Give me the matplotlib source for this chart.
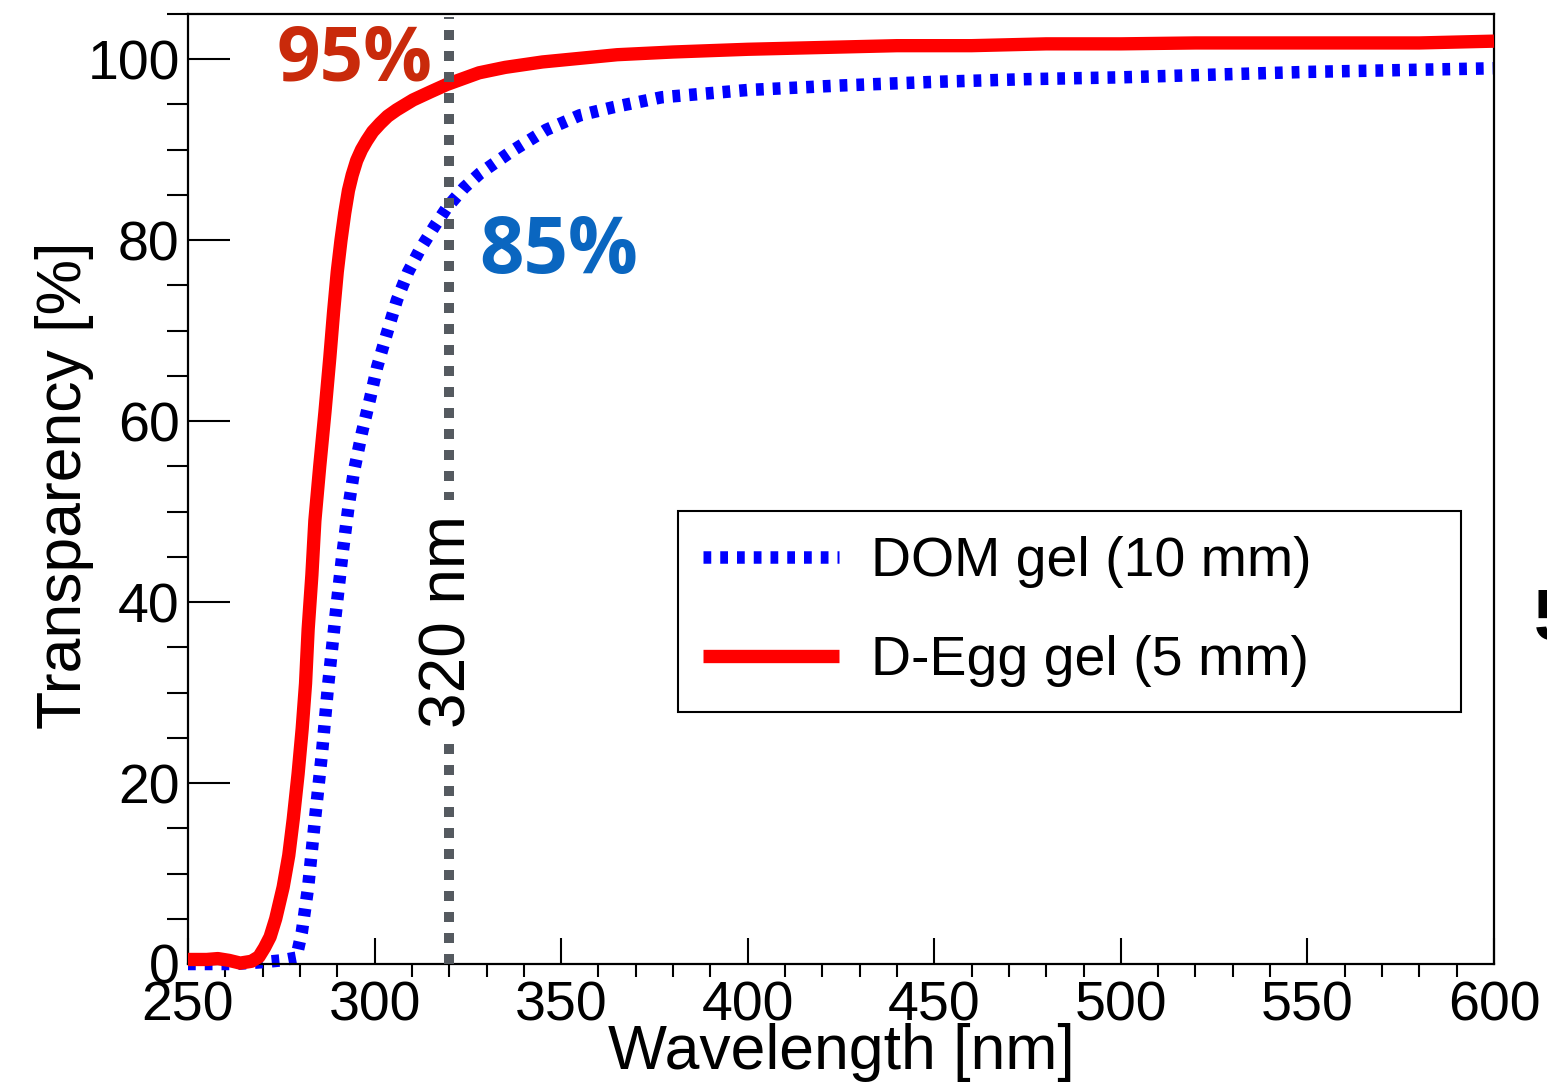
import numpy as np
import matplotlib
matplotlib.use('Agg')
import matplotlib.pyplot as plt
from matplotlib.ticker import MultipleLocator

plt.rcParams['font.family'] = ['Liberation Sans', 'DejaVu Sans']

# D-Egg gel (5 mm)
degg_wl = [250, 255, 258, 261, 264, 267, 269, 270.5, 272, 273.5, 275.5, 277, 278.2,
           279.5, 280.6, 281.5, 282.2, 283.2, 284, 285.3, 286.7, 288, 289, 290,
           291, 292, 293, 294, 295.2, 296.5, 297.9, 299.5, 301.5, 303.5, 305.9, 310.3,
           315, 319.3, 328, 335, 345, 355, 365, 380, 400, 420, 440, 460, 480, 500,
           520, 550, 580, 600]
degg_tr = [0.5, 0.5, 0.6, 0.4, 0.1, 0.3, 0.8, 1.8, 3.0, 5.0, 8.5, 12.0, 16.0,
           21.0, 26.0, 31.0, 37.0, 43.0, 49.0, 55.0, 61.0, 67.0, 72.0, 76.5,
           80.0, 83.0, 85.5, 87.2, 88.8, 90.0, 91.0, 92.0, 92.9, 93.7, 94.4, 95.5,
           96.4, 97.2, 98.5, 99.1, 99.7, 100.1, 100.5, 100.8, 101.1, 101.3, 101.5, 101.5, 101.7, 101.7,
           101.8, 101.8, 101.8, 102.0]

# DOM gel (10 mm)
dom_wl = [250, 262, 270, 275, 279, 280.5, 282.2, 284, 285.9, 287.5, 289.4, 291.3,
          293.0, 294.5, 296.6, 298.8, 300.7, 303.3, 306, 309, 312.2, 316, 319.4, 324,
          328.3, 337, 346, 355, 364, 377, 400, 425, 450, 475, 500, 525, 550, 575, 600]
dom_tr = [0.0, 0.0, 0.2, 0.4, 0.7, 3.5, 8.5, 15.9, 23.3, 30.6, 38.0, 45.0,
          50.5, 54.5, 58.7, 62.5, 66.0, 69.7, 73.4, 76.5, 79.0, 81.5, 83.6, 85.8,
          87.4, 89.9, 92.2, 93.8, 94.7, 95.8, 96.6, 97.1, 97.5, 97.8, 98.0, 98.3, 98.6, 98.8, 99.0]

cut_wl = 320
labels = ['DOM gel (10 mm)', 'D-Egg gel (5 mm)']

fig = plt.figure(figsize=(15.47, 10.82), dpi=100)
ax = fig.add_axes([188 / 1547, 118 / 1082, 1306 / 1547, 950 / 1082])

ax.plot(dom_wl, dom_tr, color='#0000ff', lw=9.0, linestyle=(0, (0.62, 0.72)),
        label=labels[0], zorder=2, clip_on=False)
ax.plot(degg_wl, degg_tr, color='#ff0000', lw=9.6, solid_capstyle='butt',
        solid_joinstyle='round', label=labels[1], zorder=3, clip_on=False)
ax.axvline(cut_wl, ymin=0, ymax=0.997, color='#555a60', lw=7.2,
           linestyle=(0, (1.0, 1.1)), zorder=4)

ax.text(cut_wl - 0.2, 37.8, '320 nm', rotation=90, ha='center', va='center',
        fontsize=46, zorder=5,
        bbox=dict(facecolor='white', edgecolor='none', pad=11))
ax.text(315.4, 97.7, '95%', color='#c92a0b', fontsize=55, fontweight='bold',
        family=['Open Sans', 'DejaVu Sans'], ha='right', va='baseline', zorder=6)
ax.text(328.0, 76.35, '85%', color='#0a66c0', fontsize=56, fontweight='bold',
        family=['Open Sans', 'DejaVu Sans'], ha='left', va='baseline', zorder=6)

ax.set_xlim(250, 600)
ax.set_ylim(0, 105)
ax.xaxis.set_major_locator(MultipleLocator(50))
ax.xaxis.set_minor_locator(MultipleLocator(10))
ax.yaxis.set_major_locator(MultipleLocator(20))
ax.yaxis.set_minor_locator(MultipleLocator(5))
ax.tick_params(axis='both', direction='in', labelsize=40, width=1.5,
               top=False, right=False)
ax.tick_params(axis='x', which='major', length=19, pad=12)
ax.tick_params(axis='x', which='minor', length=9.5, width=1.5)
ax.tick_params(axis='y', which='major', length=30, pad=6)
ax.tick_params(axis='y', which='minor', length=15, width=1.5)
for s in ax.spines.values():
    s.set_linewidth(1.6)

ax.set_xlabel('Wavelength [nm]', fontsize=45)
ax.set_ylabel('Transparency [%]', fontsize=45)
ax.xaxis.set_label_coords(0.5, -0.062)
ax.yaxis.set_label_coords(-0.072, 0.504)

leg = ax.legend(loc='upper left', bbox_to_anchor=(0.3752, 0.2684, 0.5995, 0.2084),
                mode='expand', fontsize=40, handlelength=2.45, handletextpad=0.58,
                borderpad=0.45, labelspacing=0.85, fancybox=False, framealpha=1,
                edgecolor='black', borderaxespad=0)
leg.get_frame().set_linewidth(1.5)

# clipped character from the neighbouring panel
fig.text(1534 / 1547, (1082 - 640) / 1082, '5', fontsize=52, fontweight='bold',
         ha='left', va='baseline')

fig.savefig('out.png', dpi=100)
